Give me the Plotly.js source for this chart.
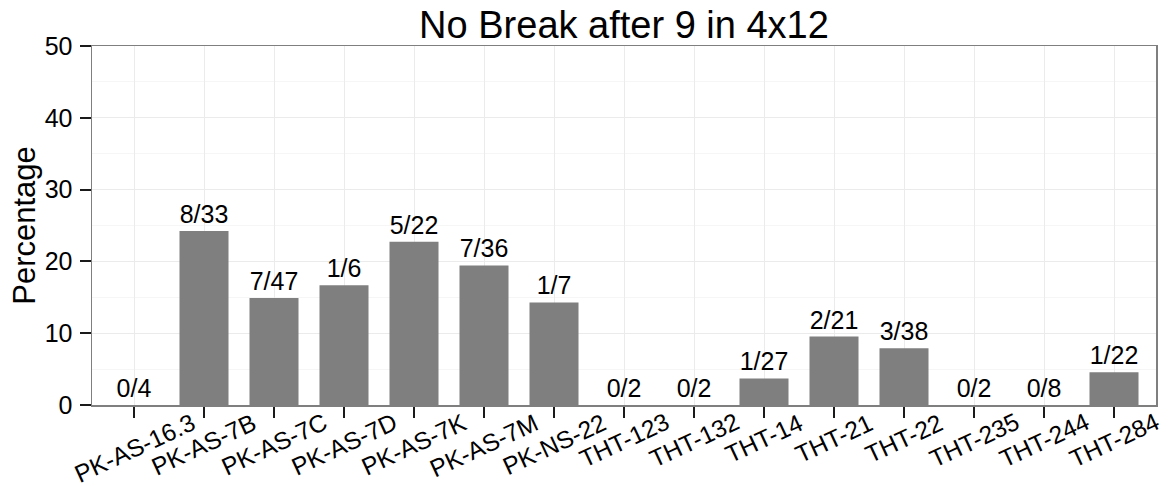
<!DOCTYPE html>
<html>
<head>
<meta charset="utf-8">
<script src="https://cdn.plot.ly/plotly-3.0.1.min.js"></script>
<style>html,body{margin:0;padding:0;background:#fff;}#chart{width:1170px;height:486px;}</style>
</head>
<body>
<div id="chart"></div>
<script>
// Data
var categories = ["PK-AS-16.3","PK-AS-7B","PK-AS-7C","PK-AS-7D","PK-AS-7K","PK-AS-7M","PK-NS-22",
                  "THT-123","THT-132","THT-14","THT-21","THT-22","THT-235","THT-244","THT-284"];
var breaks  = [0, 8, 7, 1, 5, 7, 1, 0, 0, 1, 2, 3, 0, 0, 1];
var totals  = [4, 33, 47, 6, 22, 36, 7, 2, 2, 27, 21, 38, 2, 8, 22];
var yTicks  = [0, 10, 20, 30, 40, 50];

var percentages = breaks.map(function(b, i){ return b / totals[i] * 100; });
var barLabels = breaks.map(function(b, i){ return b + "/" + totals[i]; });

var FONT = "Liberation Sans, Arial, Helvetica, sans-serif";

var trace = {
  type: "bar",
  x: categories,
  y: percentages,
  text: barLabels,
  textposition: "outside",
  textangle: 0,
  constraintext: "none",
  cliponaxis: false,
  textfont: {family: FONT, size: 25, color: "#000"},
  marker: {color: "#7F7F7F", line: {width: 0}},
  width: 0.7,
  hoverinfo: "x+y"
};

var annotations = categories.map(function(c){
  return {
    x: c, xref: "x",
    y: 0, yref: "paper",
    text: c,
    showarrow: false,
    textangle: -25,
    xanchor: "center",
    yanchor: "top",
    yshift: -1,
    font: {family: FONT, size: 24.5, color: "#000"}
  };
});

var layout = {
  width: 1170, height: 486,
  margin: {l: 92, r: 14, t: 46, b: 81, pad: 0},
  paper_bgcolor: "#fff",
  plot_bgcolor: "#fff",
  showlegend: false,
  font: {family: FONT, color: "#000"},
  title: {
    text: "No Break after 9 in 4x12",
    font: {family: FONT, size: 38, color: "#000"},
    x: 0.5, xref: "paper", xanchor: "center",
    y: 1, yref: "paper", yanchor: "bottom",
    pad: {b: 8}
  },
  xaxis: {
    type: "category",
    categoryorder: "array",
    categoryarray: categories,
    range: [-0.6, categories.length - 0.4],
    showline: true, mirror: true, linecolor: "#7F7F7F", linewidth: 1.5,
    ticks: "outside", ticklen: 11, tickwidth: 2, tickcolor: "#1a1a1a",
    showgrid: true, gridcolor: "#EBEBEB", gridwidth: 1,
    showticklabels: false,
    zeroline: false,
    fixedrange: true
  },
  yaxis: {
    range: [0, 50],
    tickmode: "array",
    tickvals: yTicks,
    ticktext: yTicks.map(String),
    showline: true, mirror: true, linecolor: "#7F7F7F", linewidth: 1.5,
    ticks: "outside", ticklen: 11, tickwidth: 2, tickcolor: "#1a1a1a",
    ticklabelstandoff: 2,
    tickfont: {family: FONT, size: 25, color: "#000"},
    showgrid: true, gridcolor: "#EBEBEB", gridwidth: 1,
    minor: {dtick: 5, tick0: 0, showgrid: true, gridcolor: "#F6F6F6", gridwidth: 1, ticks: ""},
    zeroline: false,
    title: {text: "Percentage", font: {family: FONT, size: 31, color: "#000"}, standoff: 0},
    fixedrange: true
  },
  annotations: annotations,
  bargap: 0.3
};

Plotly.newPlot("chart", [trace], layout, {displayModeBar: false, staticPlot: true});
</script>
</body>
</html>
